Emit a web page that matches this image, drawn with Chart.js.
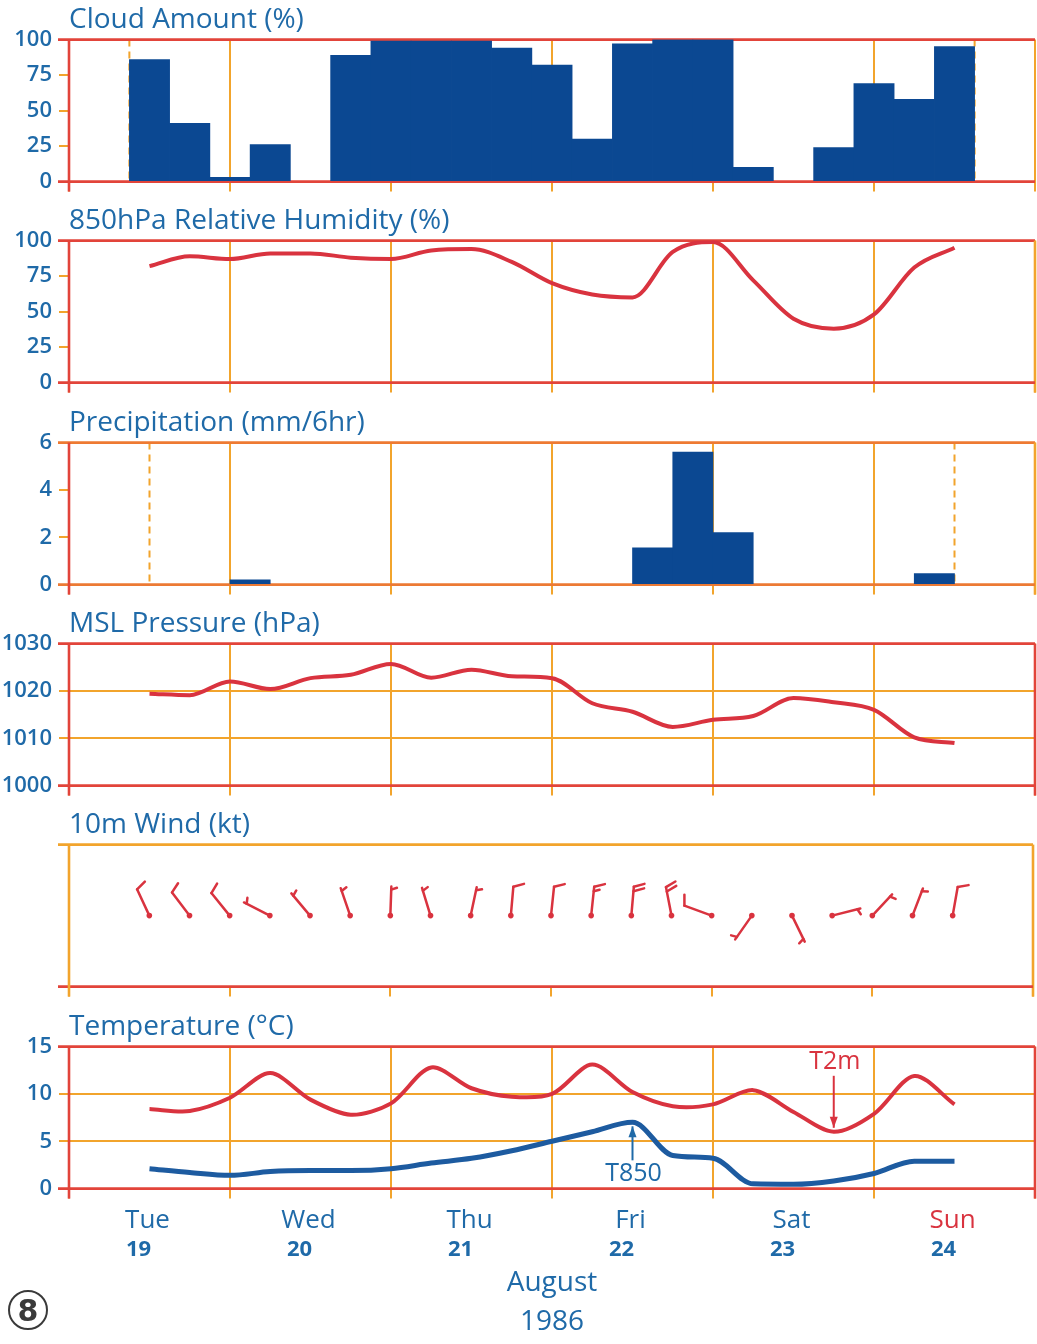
<!DOCTYPE html>
<html><head><meta charset="utf-8">
<script src="https://cdn.jsdelivr.net/npm/chart.js@4.4.1/dist/chart.umd.min.js"></script>
<style>
html,body{margin:0;padding:0;background:#fff}
body{width:1037px;height:1344px;position:relative;overflow:hidden}
.p{position:absolute;left:0;width:1037px}
#badge{position:absolute;left:8px;top:1290px;width:36px;height:36px;border:2.5px solid #3a3a3a;border-radius:50%;
 font:bold 30px 'DejaVu Sans',sans-serif;text-align:center;line-height:37px;color:#3a3a3a}
</style></head><body>
<div class="p" style="top:0px;height:202px"><canvas id="cCloud"></canvas></div>
<div class="p" style="top:201px;height:202px"><canvas id="cRH"></canvas></div>
<div class="p" style="top:403px;height:202px"><canvas id="cPrecip"></canvas></div>
<div class="p" style="top:604px;height:202px"><canvas id="cMSL"></canvas></div>
<div class="p" style="top:805px;height:202px"><canvas id="cWind"></canvas></div>
<div class="p" style="top:1007px;height:337px"><canvas id="cTemp"></canvas></div>
<div id="badge">8</div>
<script>
// ---------------- data ----------------
const hours = [12,18,24,30,36,42,48,54,60,66,72,78,84,90,96,102,108,114,120,126,132]; // hours after 00Z Tue 19 Aug 1986
const cloudAmount = [86,41,3,26,0,89,99,99,99,94,82,30,97,100,100,10,0,24,69,58,95];
const rhValues = [82,89,87,91,91,88,87,93,94,85,70,62,60,92,99,72,45,38,48,81,95];
const precipMid = [15,21,27,33,39,45,51,57,63,69,75,81,87,93,99,105,111,117,123,129];
const precipValues = [0,0,0.2,0,0,0,0,0,0,0,0,0,1.55,5.6,2.2,0,0,0,0,0.47];
const mslValues = [1019.4,1019.1,1022.0,1020.4,1022.7,1023.4,1025.7,1022.8,1024.5,1023.1,1022.7,1017.4,1015.6,1012.4,1013.9,1014.7,1018.5,1017.6,1016.0,1010.2,1009.0];
const windDir = [335,323,321,297,320,341,2,343,12,5,6,6,5,349,290,215,154,76,43,21,10];
const windSpeed = [10,10,10,5,5,5,5,5,5,10,10,15,20,20,10,5,5,5,5,5,10];
const t2m = [8.4,8.2,9.6,12.2,9.4,7.8,9.0,12.8,10.6,9.7,10.0,13.1,10.2,8.7,8.9,10.4,8.1,6.0,7.9,11.9,8.9];
const t850 = [2.1,1.7,1.4,1.8,1.9,1.9,2.1,2.7,3.2,4.0,5.0,6.0,7.0,3.5,3.2,0.5,0.45,0.8,1.6,2.9,2.9];
const dayNames = ['Tue','Wed','Thu','Fri','Sat','Sun'];
const dayDates = ['19','20','21','22','23','24'];
const dayTicks = [12,36,60,84,108,132];
const monthLabel = ['August','1986'];
const titles = ['Cloud Amount (%)','850hPa Relative Humidity (%)','Precipitation (mm/6hr)','MSL Pressure (hPa)','10m Wind (kt)','Temperature (°C)'];
const dataStart = 12, dataEnd = 132;

// ---------------- styles ----------------
const ORANGE = '#f2a42c', RED = '#d9333f', FRED = '#e2443a', TXT = '#1f6aa8', NAVY = '#0b4892', BLUE = '#1d5ba0';
const FONT = "'Open Sans', 'DejaVu Sans', sans-serif";

const framePlugin = {
  id: 'frame',
  beforeDatasetsDraw(chart, args, o) {
    const {ctx, chartArea: a} = chart;
    const x = chart.scales.x;
    ctx.save();
    ctx.lineCap = 'butt';
    (o.dashed || []).forEach(h => {
      const px = x.getPixelForValue(h);
      ctx.strokeStyle = ORANGE; ctx.lineWidth = 2; ctx.setLineDash([7, 5]);
      ctx.beginPath(); ctx.moveTo(px, a.top); ctx.lineTo(px, a.bottom); ctx.stroke();
    });
    ctx.setLineDash([]);
    ctx.lineWidth = 2.6;
    const seg = (c, x1, y1, x2, y2) => { if (!c) return; ctx.strokeStyle = c; ctx.beginPath(); ctx.moveTo(x1, y1); ctx.lineTo(x2, y2); ctx.stroke(); };
    seg(o.top, a.left - 11, a.top, a.right, a.top);
    seg(o.right, a.right, a.top, a.right, a.bottom + 10);
    seg(o.bottom, a.left - 11, a.bottom, a.right, a.bottom);
    seg(o.left, a.left, a.top, a.left, a.bottom + 10);
    ctx.restore();
  }
};

function xMain() {
  return {
    type: 'linear', min: 0, max: 144, weight: 0, offset: false,
    ticks: { stepSize: 24, display: false },
    grid: { color: ORANGE, lineWidth: 2, tickLength: 10, drawTicks: true, offset: false },
    border: { display: false },
    afterFit(s) { s.height = 10; }
  };
}
function yAxis(min, max, step, inner) {
  return {
    min, max,
    ticks: { stepSize: step, color: TXT, padding: 7, font: { family: FONT, size: 22, weight: '600' }, callback: v => String(v) },
    grid: {
      drawOnChartArea: inner, lineWidth: 2, tickLength: 10, tickColor: ORANGE,
      color: c => (c.tick && (c.tick.value === min || c.tick.value === max)) ? 'rgba(0,0,0,0)' : ORANGE
    },
    border: { display: false },
    afterFit(s) { s.width = 69; }
  };
}
function baseOptions(title, y, frame, extraScales, bottomPad) {
  return {
    responsive: true, maintainAspectRatio: false, animation: false,
    layout: { padding: { left: 0, right: 2, top: 0, bottom: bottomPad } },
    plugins: {
      legend: { display: false }, tooltip: { enabled: false },
      title: { display: true, text: title, align: 'start', fullSize: false, color: TXT,
               font: { family: FONT, size: 28, weight: 'normal', lineHeight: 1.2 }, padding: { top: 3, bottom: 3 } },
      frame
    },
    scales: Object.assign({ x: xMain(), y }, extraScales || {})
  };
}
const pts = (xs, ys) => xs.map((h, i) => ({ x: h, y: ys[i] }));
const barFill = c => (c.raw && c.raw.y > 0) ? NAVY : 'rgba(0,0,0,0)';

// 1. Cloud amount
new Chart(document.getElementById('cCloud'), {
  type: 'bar',
  data: { datasets: [{ data: pts(hours, cloudAmount), backgroundColor: barFill, borderWidth: 0, barPercentage: 1, categoryPercentage: 1 }] },
  options: baseOptions(titles[0], yAxis(0, 100, 25, false),
    { top: FRED, right: null, bottom: FRED, left: FRED, dashed: [dataStart - 3, dataEnd + 3] }, null, 10.4),
  plugins: [framePlugin]
});

// 2. RH
new Chart(document.getElementById('cRH'), {
  type: 'line',
  data: { datasets: [{ data: pts(hours, rhValues), borderColor: RED, borderWidth: 4, pointRadius: 0, tension: 0.4, cubicInterpolationMode: 'monotone' }] },
  options: baseOptions(titles[1], yAxis(0, 100, 25, false),
    { top: FRED, right: ORANGE, bottom: FRED, left: FRED }, null, 10.4),
  plugins: [framePlugin]
});

// 3. Precip
new Chart(document.getElementById('cPrecip'), {
  type: 'bar',
  data: { datasets: [{ data: pts(precipMid, precipValues), backgroundColor: barFill, borderWidth: 0, barPercentage: 1, categoryPercentage: 1 }] },
  options: baseOptions(titles[2], yAxis(0, 6, 2, false),
    { top: '#ee7a32', right: ORANGE, bottom: '#ec7a34', left: FRED, dashed: [dataStart, dataEnd] }, null, 10.4),
  plugins: [framePlugin]
});

// 4. MSL
new Chart(document.getElementById('cMSL'), {
  type: 'line',
  data: { datasets: [{ data: pts(hours, mslValues), borderColor: RED, borderWidth: 4, pointRadius: 0, tension: 0.4, cubicInterpolationMode: 'monotone' }] },
  options: baseOptions(titles[3], yAxis(1000, 1030, 10, true),
    { top: FRED, right: FRED, bottom: FRED, left: FRED }, null, 10.4),
  plugins: [framePlugin]
});

// 5. Wind barbs
const windBarbs = {
  id: 'windBarbs',
  afterDatasetsDraw(chart) {
    const { ctx, scales: { x, y } } = chart;
    ctx.save();
    ctx.strokeStyle = RED; ctx.lineWidth = 2.5; ctx.lineCap = 'round'; ctx.lineJoin = 'round';
    const L = 29, FULL = 11, HALF = 6, GAP = 4.5, ROT = 70 * Math.PI / 180;
    hours.forEach((h, i) => {
      const px = x.getPixelForValue(h), py = y.getPixelForValue(0);
      const a = windDir[i] * Math.PI / 180;
      const ux = Math.sin(a), uy = -Math.cos(a);
      const tx = px + ux * L, ty = py + uy * L;
      ctx.beginPath(); ctx.moveTo(px, py); ctx.lineTo(tx, ty); ctx.stroke();
      const bx = Math.sin(a + ROT), by = -Math.cos(a + ROT);
      let s = windSpeed[i];
      let off = s < 10 ? 3 : 0;
      const barb = (len) => {
        const sx = tx - ux * off, sy = ty - uy * off;
        ctx.beginPath(); ctx.moveTo(sx, sy); ctx.lineTo(sx + bx * len, sy + by * len); ctx.stroke();
        off += GAP;
      };
      while (s >= 10) { barb(FULL); s -= 10; }
      if (s >= 5) barb(HALF);
    });
    ctx.restore();
  }
};
new Chart(document.getElementById('cWind'), {
  type: 'scatter',
  data: { datasets: [{ data: hours.map(h => ({ x: h, y: 0 })), pointRadius: 2.8, pointBackgroundColor: RED, pointBorderWidth: 0 }] },
  options: (() => {
    const o = baseOptions(titles[4], { min: -1, max: 1, ticks: { display: false }, grid: { display: false, drawTicks: false }, border: { display: false }, afterFit(s) { s.width = 69; } },
      { top: ORANGE, right: ORANGE, bottom: FRED, left: ORANGE }, null, 10.4);
    o.scales.x.grid.drawOnChartArea = false;
    return o;
  })(),
  plugins: [framePlugin, windBarbs]
});

// 6. Temperature
const notes = [
  { label: 'T2m', series: t2m, index: 17, color: RED, dir: -1 },
  { label: 'T850', series: t850, index: 12, color: TXT, dir: 1 }
];
const notePlugin = {
  id: 'notes',
  afterDatasetsDraw(chart) {
    const { ctx, scales: { x, y } } = chart;
    ctx.save();
    notes.forEach(n => {
      const px = x.getPixelForValue(hours[n.index]);
      const py = y.getPixelForValue(n.series[n.index]);
      const tip = py + n.dir * 4;
      const tail = n.dir < 0 ? py - 56 : py + 38;
      ctx.strokeStyle = n.color; ctx.fillStyle = n.color; ctx.lineWidth = 2;
      ctx.beginPath(); ctx.moveTo(px, tail); ctx.lineTo(px, tip); ctx.stroke();
      ctx.beginPath(); ctx.moveTo(px, tip); ctx.lineTo(px - 4, tip + n.dir * 11); ctx.lineTo(px + 4, tip + n.dir * 11); ctx.closePath(); ctx.fill();
      ctx.font = "25px " + FONT; ctx.textAlign = 'center'; ctx.textBaseline = 'middle';
      ctx.fillText(n.label, px + 1, n.dir < 0 ? py - 70 : py + 52);
    });
    ctx.restore();
  }
};
new Chart(document.getElementById('cTemp'), {
  type: 'line',
  data: { datasets: [
    { data: pts(hours, t2m), borderColor: RED, borderWidth: 4, pointRadius: 0, tension: 0.3 },
    { data: pts(hours, t850), borderColor: BLUE, borderWidth: 5, pointRadius: 0, tension: 0.4, cubicInterpolationMode: 'monotone' }
  ] },
  options: baseOptions(titles[5], yAxis(0, 15, 5, true),
    { top: FRED, right: FRED, bottom: FRED, left: FRED },
    {
      xDay: {
        type: 'linear', position: 'bottom', min: 0, max: 144, weight: 1,
        afterBuildTicks(s) { s.ticks = dayTicks.map(v => ({ value: v })); },
        ticks: { autoSkip: false, maxRotation: 0, padding: 6, labelOffset: -2, callback: (v, i) => dayNames[i],
                 color: c => dayNames[c.index] === 'Sun' ? RED : TXT, font: { family: FONT, size: 26 } },
        grid: { display: false, drawTicks: false }, border: { display: false },
        afterFit(s) { s.height = 38; }
      },
      xDate: {
        type: 'linear', position: 'bottom', min: 0, max: 144, weight: 2,
        afterBuildTicks(s) { s.ticks = dayTicks.map(v => ({ value: v })); },
        ticks: { autoSkip: false, maxRotation: 0, padding: 0, labelOffset: -11, callback: (v, i) => dayDates[i],
                 color: TXT, font: { family: FONT, size: 22, weight: 'bold' } },
        grid: { display: false, drawTicks: false }, border: { display: false },
        title: { display: true, text: monthLabel, color: TXT, font: { family: FONT, size: 28, lineHeight: 1.39 }, padding: { top: 0, bottom: 2.5 } },
        afterFit(s) { s.height = 107.4; }
      }
    }, 0),
  plugins: [framePlugin, notePlugin]
});
</script>
</body></html>
